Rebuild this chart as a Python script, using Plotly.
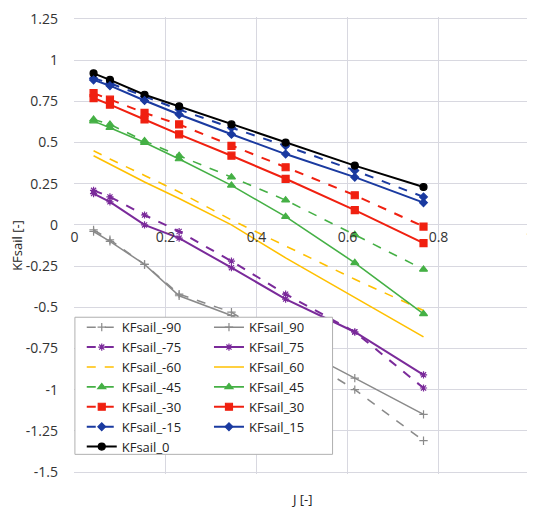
import plotly.graph_objects as go

J = [0.042, 0.078, 0.154, 0.23, 0.345, 0.464, 0.616, 0.767]

kf_m90 = [-0.03, -0.09, -0.24, -0.42, -0.53, -0.74, -1.00, -1.31]
kf_90 = [-0.04, -0.10, -0.24, -0.43, -0.55, -0.71, -0.93, -1.15]
kf_m75 = [0.21, 0.17, 0.06, -0.04, -0.22, -0.42, -0.65, -0.99]
kf_75 = [0.19, 0.14, 0.0, -0.08, -0.26, -0.45, -0.65, -0.91]
kf_m60 = [0.45, 0.40, 0.30, 0.20, 0.03, -0.13, -0.33, -0.52]
kf_60 = [0.42, 0.37, 0.26, 0.16, 0.0, -0.20, -0.44, -0.68]
kf_m45 = [0.64, 0.61, 0.51, 0.42, 0.29, 0.15, -0.06, -0.27]
kf_45 = [0.63, 0.59, 0.50, 0.40, 0.24, 0.05, -0.23, -0.54]
kf_m30 = [0.80, 0.76, 0.68, 0.61, 0.48, 0.35, 0.18, -0.01]
kf_30 = [0.77, 0.73, 0.64, 0.55, 0.42, 0.28, 0.09, -0.11]
kf_m15 = [0.89, 0.86, 0.78, 0.70, 0.59, 0.48, 0.33, 0.17]
kf_15 = [0.88, 0.845, 0.755, 0.67, 0.55, 0.43, 0.29, 0.135]
kf_0 = [0.92, 0.88, 0.79, 0.72, 0.61, 0.50, 0.36, 0.23]

x_ticks = [0, 0.2, 0.4, 0.6, 0.8, 1]
x_ticktext = ["0", "0.2", "0.4", "0.6", "0.8", "1"]
y_ticks = [1.25, 1, 0.75, 0.5, 0.25, 0, -0.25, -0.5, -0.75, -1, -1.25, -1.5]
y_ticktext = ["1.25", "1", "0.75", "0.5", "0.25", "0", "-0.25", "-0.5", "-0.75", "-1", "-1.25", "-1.5"]

GRAY = "#8a8a8a"
PURPLE = "#7a2a9a"
YELLOW = "#ffc000"
GREEN = "#45b045"
RED = "#f02010"
BLUE = "#1a3aa0"
BLACK = "#000000"

# name, values, colour, dash, marker, size, width, legend
series = [
    ("KFsail_-90", kf_m90, GRAY, "dash", "cross-thin", 6, 1.5, "legend"),
    ("KFsail_-75", kf_m75, PURPLE, "dash", "asterisk", 6, 2, "legend"),
    ("KFsail_-60", kf_m60, YELLOW, "dash", None, 0, 1.6, "legend"),
    ("KFsail_-45", kf_m45, GREEN, "dash", "triangle-up", 7, 1.6, "legend"),
    ("KFsail_-30", kf_m30, RED, "dash", "square", 7, 2, "legend"),
    ("KFsail_-15", kf_m15, BLUE, "dash", "diamond", 6, 2, "legend"),
    ("KFsail_0", kf_0, BLACK, "solid", "circle", 7, 2, "legend"),
    ("KFsail_90", kf_90, GRAY, "solid", "cross-thin", 6, 1.5, "legend2"),
    ("KFsail_75", kf_75, PURPLE, "solid", "asterisk", 6, 2, "legend2"),
    ("KFsail_60", kf_60, YELLOW, "solid", None, 0, 1.6, "legend2"),
    ("KFsail_45", kf_45, GREEN, "solid", "triangle-up", 7, 1.6, "legend2"),
    ("KFsail_30", kf_30, RED, "solid", "square", 7, 2, "legend2"),
    ("KFsail_15", kf_15, BLUE, "solid", "diamond", 6, 2, "legend2"),
]

fig = go.Figure()
for name, ys, col, dash, sym, size, lw, lg in series:
    if sym is None:
        fig.add_trace(go.Scatter(x=J, y=ys, name=name, mode="lines", legend=lg,
                                 line=dict(color=col, dash=dash, width=lw)))
    else:
        fig.add_trace(go.Scatter(x=J, y=ys, name=name, mode="lines+markers", legend=lg,
                                 line=dict(color=col, dash=dash, width=lw),
                                 marker=dict(symbol=sym, size=size, color=col,
                                             line=dict(color=col, width=1.2))))

FONT = "'Open Sans', sans-serif"
Y_RANGE = [-1.512, 1.262]
ypos0 = (0 - Y_RANGE[0]) / (Y_RANGE[1] - Y_RANGE[0])
legfont = dict(family=FONT, size=13, color="#222222")

fig.update_layout(
    width=527, height=500,
    margin=dict(l=66, r=1, t=3, b=34),
    paper_bgcolor="white", plot_bgcolor="white",
    font=dict(family=FONT, size=13, color="#333333"),
    showlegend=True,
    legend=dict(x=0.017, y=0.354, xanchor="left", yanchor="top",
                bgcolor="rgba(0,0,0,0)", borderwidth=0, tracegroupgap=0,
                font=legfont),
    legend2=dict(x=0.296, y=0.354, xanchor="left", yanchor="top",
                 bgcolor="rgba(0,0,0,0)", borderwidth=0, tracegroupgap=0,
                 font=legfont),
    xaxis=dict(range=[-0.001, 1.001], tickvals=x_ticks, ticktext=x_ticktext,
               showgrid=True, gridcolor="#d8d8e0", gridwidth=1,
               zeroline=False, showline=False, ticks="",
               anchor="free", position=ypos0, ticklabelstandoff=2,
               ticklabeloverflow="allow",
               tickfont=dict(size=14, color="#333333")),
    yaxis=dict(range=Y_RANGE, tickvals=y_ticks, ticktext=y_ticktext,
               showgrid=True, gridcolor="#d8d8e0", gridwidth=1,
               zeroline=False, showline=False, ticks="", ticklabelstandoff=15,
               ticklabeloverflow="allow",
               tickfont=dict(size=14, color="#333333"),
               title=dict(text="KFsail [-]", font=dict(size=13, color="#222222"), standoff=7)),
    shapes=[dict(type="rect", xref="paper", yref="paper", x0=0.002, x1=0.567,
                 y0=0.043, y1=0.343, layer="above", fillcolor="white",
                 line=dict(color="#b0b0b0", width=1))],
    annotations=[dict(text="J [-]", x=0.5, y=0, xref="paper", yref="paper",
                      yanchor="top", yshift=-14, showarrow=False,
                      font=dict(size=13, color="#222222"))],
)

fig.write_html("out.html")
